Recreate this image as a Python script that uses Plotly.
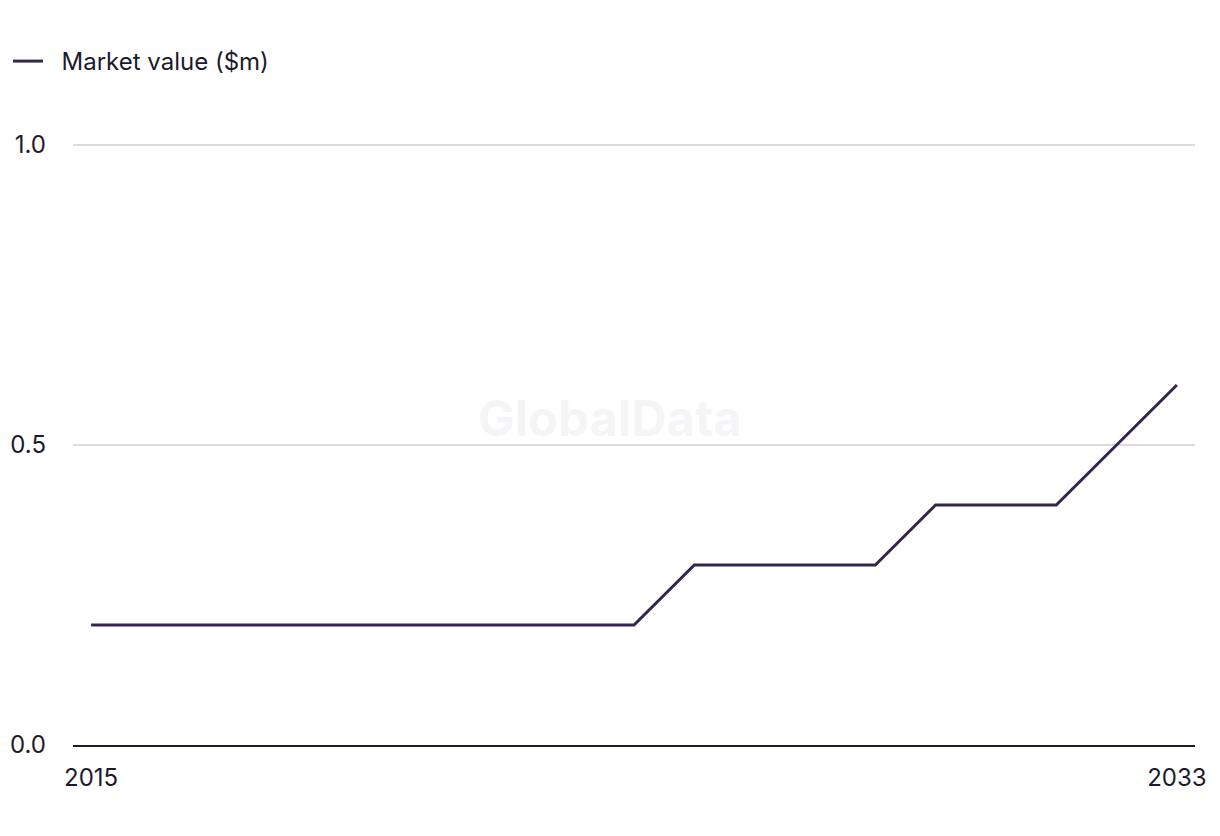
import plotly.graph_objects as go

years = list(range(2015, 2034))
market_value = [0.2, 0.2, 0.2, 0.2, 0.2, 0.2, 0.2, 0.2, 0.2, 0.2,
                0.3, 0.3, 0.3, 0.3, 0.4, 0.4, 0.4, 0.5, 0.6]
y_ticks = [0.0, 0.5, 1.0]
x_ticks = [2015, 2033]

text_color = "#1c1b2e"
line_color = "#35264f"
font_family = "Inter, Liberation Sans, Arial, sans-serif"

W, H = 1204, 820

fig = go.Figure()
fig.add_trace(go.Scatter(
    x=years, y=market_value, mode="lines", name="\u00a0\u00a0Market value ($m)",
    line=dict(color=line_color, width=3),
    hoverinfo="x+y",
))

fig.update_layout(
    width=W, height=H,
    margin=dict(l=65, r=17, t=134, b=83),
    paper_bgcolor="white", plot_bgcolor="white",
    font=dict(family=font_family, size=24, color=text_color),
    showlegend=True,
    legend=dict(
        orientation="h", xref="container", yref="container",
        x=0, y=1 - 31 / H, xanchor="left", yanchor="top",
        font=dict(size=24, color=text_color), itemwidth=30,
        bgcolor="rgba(0,0,0,0)",
    ),
    xaxis=dict(
        range=[2014.7, 2033.3], tickmode="array", tickvals=x_ticks,
        ticktext=[str(v) for v in x_ticks], showgrid=False, zeroline=False,
        showline=True, linecolor=text_color, linewidth=2,
        ticks="", ticklabelstandoff=10, automargin=False,
    ),
    yaxis=dict(
        range=[0, 1.005], tickmode="array", tickvals=y_ticks,
        ticktext=[f"{v:.1f}" for v in y_ticks], showgrid=True,
        gridcolor="#dcdce0", gridwidth=2, zeroline=False, showline=False,
        ticks="", ticklabelstandoff=26, automargin=False,
    ),
    annotations=[dict(
        text="<b>GlobalData</b>", x=0.4786, y=0.542, xref="paper", yref="paper",
        xanchor="center", yanchor="middle",
        showarrow=False, font=dict(size=49, color="#f5f5f7", family=font_family),
    )],
)

fig.write_html("out.html")
